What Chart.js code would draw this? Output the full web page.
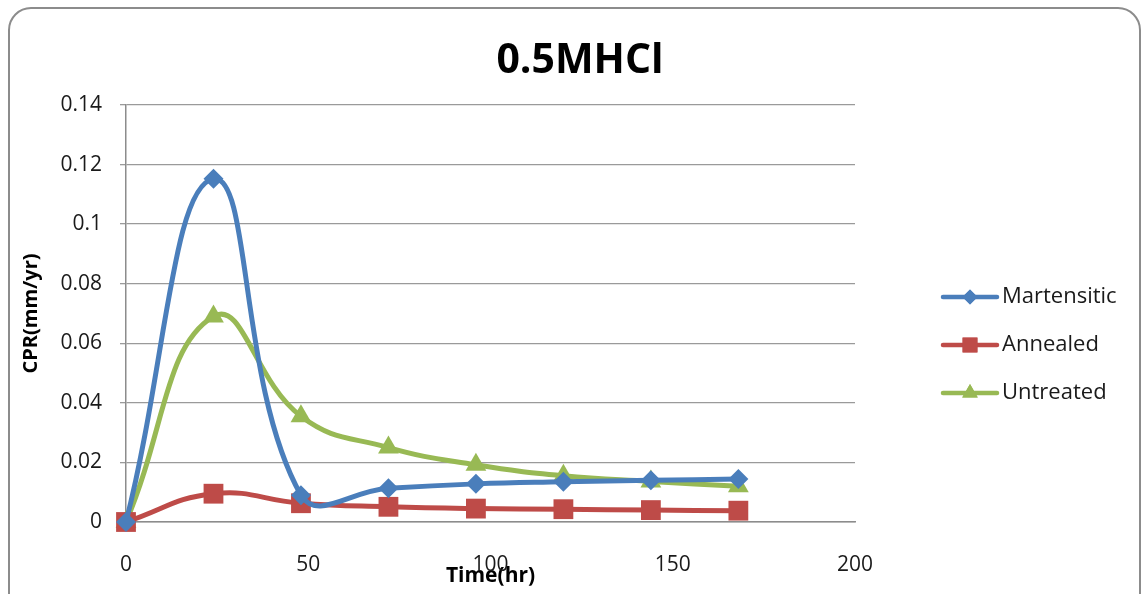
<!DOCTYPE html>
<html>
<head>
<meta charset="utf-8">
<script src="https://cdn.jsdelivr.net/npm/chart.js@4/dist/chart.umd.min.js"></script>
<style>
  html, body { margin: 0; padding: 0; background: #fff; }
  #wrap { width: 1142px; height: 594px; position: relative; }
</style>
</head>
<body>
<div id="wrap"><canvas id="grafico" width="1142" height="594"></canvas></div>
<script>
// dados
const tempos = [0, 24, 48, 72, 96, 120, 144, 168];
const martensitic = [0, 0.1152, 0.0090, 0.0113, 0.0128, 0.0135, 0.0140, 0.0144];
const annealed = [0, 0.0095, 0.0063, 0.0051, 0.0045, 0.0043, 0.0040, 0.0038];
const untreated = [0, 0.0690, 0.0355, 0.0250, 0.0192, 0.0155, 0.0136, 0.0120];
const xTicks = [0, 50, 100, 150, 200];
const yTicks = [0, 0.02, 0.04, 0.06, 0.08, 0.1, 0.12, 0.14];

const titulo = "0.5MHCl";
const fonte = "'Open Sans', 'Liberation Sans', sans-serif";

function pontos(arr) {
    return tempos.map((t, i) => ({ x: t, y: arr[i] }));
}

const series = [
    { label: "Martensitic", data: pontos(martensitic), cor: "#4A7EBB", estilo: "rectRot", raio: 10 },
    { label: "Annealed", data: pontos(annealed), cor: "#BE4B48", estilo: "rect", raio: 14 },
    { label: "Untreated", data: pontos(untreated), cor: "#98B954", estilo: "triangle", raio: 12 }
];

// moldura, titulo e legenda
const extras = {
    id: "extras",
    beforeDraw(chart) {
        const ctx = chart.ctx;
        ctx.save();
        ctx.fillStyle = "#fff";
        ctx.fillRect(0, 0, chart.width, chart.height);
        ctx.strokeStyle = "#8c8c8c";
        ctx.lineWidth = 2;
        ctx.beginPath();
        ctx.roundRect(9, 8, 1131, 610, 22);
        ctx.stroke();
        ctx.restore();
    },
    afterDraw(chart) {
        const ctx = chart.ctx;
        ctx.save();
        ctx.fillStyle = "#000";
        ctx.font = "bold 41px " + fonte;
        ctx.textAlign = "center";
        ctx.textBaseline = "middle";
        ctx.fillText(titulo, 580, 61);

        ctx.font = "22px " + fonte;
        ctx.textAlign = "left";
        series.forEach((s, i) => {
            const y = 297 + i * 48;
            ctx.strokeStyle = s.cor;
            ctx.lineWidth = 4.5;
            ctx.lineCap = "round";
            ctx.beginPath();
            ctx.moveTo(943, y);
            ctx.lineTo(997, y);
            ctx.stroke();
            ctx.fillStyle = s.cor;
            Chart.helpers.drawPoint(ctx, { pointStyle: s.estilo, radius: s.raio * 0.75, rotation: 0, borderWidth: 0 }, 970, y);
            ctx.fill();
            ctx.fillStyle = "#1a1a1a";
            ctx.fillText(s.label, 1002, y);
        });
        ctx.restore();
    }
};

const ctx = document.getElementById("grafico").getContext("2d");

new Chart(ctx, {
    type: "line",
    data: {
        datasets: series.map(s => ({
            label: s.label,
            data: s.data,
            borderColor: s.cor,
            backgroundColor: s.cor,
            borderWidth: 5,
            tension: 0.45,
            pointStyle: s.estilo,
            pointRadius: s.raio,
            pointBorderWidth: 0,
            pointBackgroundColor: s.cor,
            fill: false,
            clip: false
        }))
    },
    options: {
        responsive: false,
        animation: false,
        devicePixelRatio: 1,
        layout: { padding: { left: 0, right: 287, top: 105, bottom: 0 } },
        plugins: {
            legend: { display: false },
            title: { display: false },
            tooltip: { enabled: false }
        },
        scales: {
            x: {
                type: "linear",
                min: 0,
                max: 200,
                afterBuildTicks: axis => { axis.ticks = xTicks.map(v => ({ value: v })); },
                grid: { display: false, drawTicks: false },
                border: { display: true, color: "#8c8c8c", width: 1.5 },
                ticks: { color: "#1a1a1a", font: { family: fonte, size: 21 }, padding: 30 },
                title: {
                    display: true,
                    text: "Time(hr)",
                    color: "#000",
                    font: { family: fonte, size: 21, weight: "bold" },
                    padding: { top: 0, bottom: 5 }
                },
                afterFit: axis => { axis.height = 72; }
            },
            y: {
                min: 0,
                max: 0.14,
                afterBuildTicks: axis => { axis.ticks = yTicks.map(v => ({ value: v })); },
                grid: { color: "#9a9a9a", lineWidth: 1.3, tickLength: 6, drawTicks: true },
                border: { display: true, color: "#8c8c8c", width: 1.5 },
                ticks: {
                    color: "#1a1a1a",
                    font: { family: fonte, size: 21 },
                    padding: 18,
                    callback: v => String(Number(v.toFixed(2)))
                },
                title: {
                    display: true,
                    text: "CPR(mm/yr)",
                    color: "#000",
                    font: { family: fonte, size: 20, weight: "bold" },
                    padding: { top: 19, bottom: 0 }
                },
                afterFit: axis => { axis.width = 126; }
            }
        }
    },
    plugins: [extras]
});
</script>
</body>
</html>
